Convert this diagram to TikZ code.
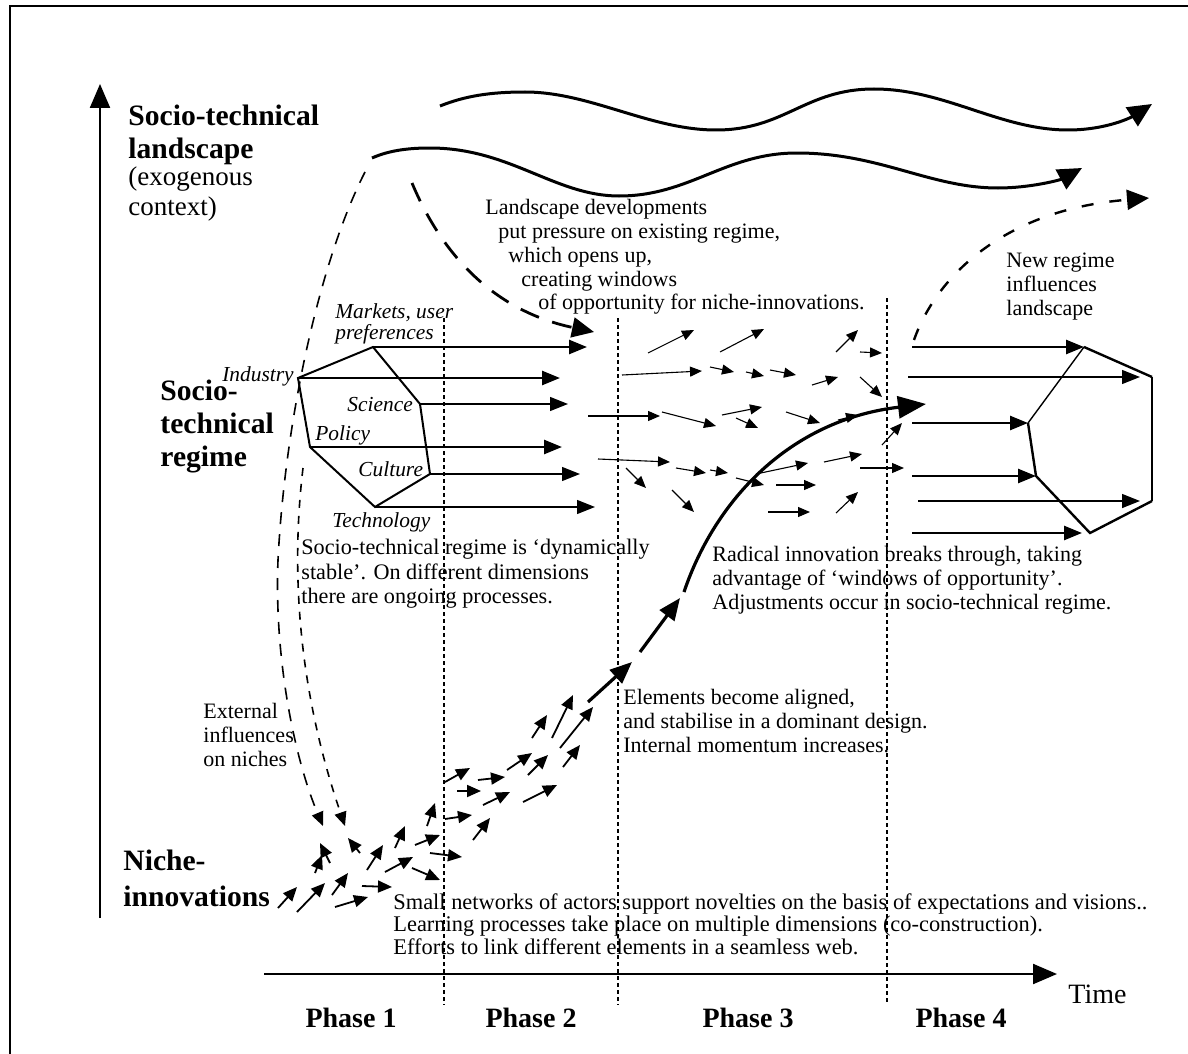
\documentclass[tikz,border=0pt]{standalone}
\usepackage{fontspec}
\setmainfont{Liberation Serif}
\usetikzlibrary{arrows.meta,positioning}
\begin{document}
\begin{tikzpicture}[
x=0.5pt, y=-0.5pt,
level/.style={font=\fontsize{14.8}{16.5}\selectfont\bfseries, align=left, inner sep=0pt, anchor=north west},
context/.style={font=\fontsize{13.5}{15}\selectfont, align=left, inner sep=0pt, anchor=north west},
note/.style={font=\fontsize{11}{11.9}\selectfont, align=left, inner sep=0pt, anchor=north west},
dimension/.style={font=\fontsize{10.7}{11}\selectfont\itshape, inner sep=0pt, anchor=base west},
phase/.style={font=\fontsize{14}{16}\selectfont\bfseries, inner sep=0pt},
axis/.style={line width=1.1pt, -{Triangle[length=12pt,width=10pt]}},
wave/.style={line width=1.5pt, -{Triangle[length=12pt,width=11pt]}},
strong/.style={line width=1.3pt, -{Triangle[length=9pt,width=7pt]}},
weak/.style={line width=0.7pt, -{Triangle[length=9pt,width=7pt]}},
frag/.style={line width=0.55pt, -{Triangle[length=6pt,width=5pt]}},
seed/.style={line width=0.9pt, -{Triangle[length=7pt,width=6pt]}},
growth/.style={line width=1.6pt, -{Triangle[length=11pt,width=9pt]}},
boundary/.style={line width=0.6pt, dash pattern=on 2pt off 1.5pt},
influence/.style={line width=0.8pt, dash pattern=on 6pt off 5pt, -{Triangle[length=7pt,width=6pt]}},
pressure/.style={line width=1.4pt, dash pattern=on 10pt off 7pt, -{Triangle[length=11pt,width=10pt]}}
]
\useasboundingbox (0,0) rectangle (1188,1054);
% frame
\draw[line width=1.3pt] (10,1054) -- (10,6) -- (1188,6);

% axes
\coordinate (ybase) at (100,918);
\coordinate (ytop) at (100,84);
\coordinate (tstart) at (264,974);
\coordinate (tend) at (1057,974);
\draw[axis] (ybase) -- (ytop);
\draw[axis] (tstart) -- (tend);
\node[font=\fontsize{14}{16}\selectfont, inner sep=0pt, anchor=north west] (time) [below right=5.5pt and 5.5pt of tend] {Time};

% phase boundaries
\draw[boundary] (444,318) -- (444,1005);
\draw[boundary] (618,318) -- (618,1005);
\draw[boundary] (887,298) -- (887,1005);
\node[phase] (phase1) at (351,1018) {Phase 1};
\node[phase] (phase2) at (531,1018) {Phase 2};
\node[phase] (phase3) at (748,1018) {Phase 3};
\node[phase] (phase4) at (961,1018) {Phase 4};

% level headings
\node[level] (landscape) at (128,105) {Socio-technical\\landscape};
\node[context] (exogenous) at (128,166) {(exogenous\\context)};
\node[level] (regime) at (160,380) {Socio-\\technical\\regime};
\node[level, font=\fontsize{14.8}{18}\selectfont\bfseries] (niche) at (123,850) {Niche-\\innovations};

% landscape developments
\draw[wave] (440,106) .. controls (465,96) and (490,92) .. (525,92)
  .. controls (590,92) and (650,130) .. (716,130)
  .. controls (785,130) and (805,89) .. (874,89)
  .. controls (945,89) and (1000,130) .. (1068,130)
  .. controls (1105,130) and (1130,118) .. (1152,104);
\draw[wave] (372,158) .. controls (390,150) and (410,148) .. (430,148)
  .. controls (510,148) and (555,196) .. (619,196)
  .. controls (690,196) and (725,153) .. (797,153)
  .. controls (880,153) and (930,188) .. (998,188)
  .. controls (1030,188) and (1060,180) .. (1082,168);

% existing regime
\coordinate (mkt) at (373,347);
\coordinate (sci) at (420,404);
\coordinate (cul) at (430,474);
\coordinate (tec) at (375,507);
\coordinate (pol) at (310,447);
\coordinate (ind) at (298,378);
\draw[line width=1pt] (mkt) -- (sci) -- (cul) -- (tec) -- (pol) -- (ind) -- cycle;
\draw[strong] (mkt) -- ++(214,0);
\draw[strong] (ind) -- ++(262,0);
\draw[weak] (sci) -- ++(148,0);
\draw[strong] (pol) -- ++(252,0);
\draw[weak] (cul) -- ++(150,0);
\draw[weak] (tec) -- ++(220,0);
\node[dimension, align=left, anchor=north west, font=\fontsize{10.7}{10.5}\selectfont\itshape] (markets) at (335,303) {Markets, user\\preferences};
\node[dimension, anchor=base east] (industry) at (294,381) {Industry};
\node[dimension] (science) at (347,411) {Science};
\node[dimension] (policy) at (315,440) {Policy};
\node[dimension] (culture) at (358,476) {Culture};
\node[dimension] (technology) at (332,527) {Technology};

% regime opening up
\foreach \ax/\ay/\bx/\by in {648/353/694/330, 720/352/764/329, 836/352/858/330, 860/352/882/353,
  622/375/702/371, 710/367/734/372, 746/372/764/376, 770/370/796/375, 812/385/838/377, 860/377/882/397,
  588/416/660/416, 662/412/716/426, 722/415/762/407, 736/418/758/428, 786/412/820/423, 838/420/858/415,
  598/459/670/462, 626/468/646/488, 676/468/706/473, 710/470/728/473, 736/478/764/485, 756/474/808/463,
  824/462/862/454, 860/468/904/468, 776/485/816/485, 672/490/694/512, 768/512/810/512, 836/513/858/492,
  882/445/902/423}
  \draw[frag] (\ax,\ay) -- (\bx,\by);

% new regime
\coordinate (nmkt) at (1084,347);
\coordinate (nsci) at (1152,377);
\coordinate (ncul) at (1152,501);
\coordinate (ntec) at (1090,533);
\coordinate (npol) at (1036,476);
\coordinate (nind) at (1028,423);
\draw[line width=1.2pt] (nmkt) -- (nsci);
\draw[line width=0.7pt] (nsci) -- (ncul);
\draw[line width=1.2pt] (ncul) -- (ntec) -- (npol) -- (nind);
\draw[line width=0.7pt] (nind) -- (nmkt);
\draw[strong] (912,347) -- (nmkt);
\draw[weak] (908,377) -- ([xshift=-6pt]nsci);
\draw[strong] (912,423) -- (nind);
\draw[strong] (912,476) -- (npol);
\draw[weak] (918,501) -- ([xshift=-6pt]ncul);
\draw[strong] (912,533) -- ([xshift=-4pt]ntec);

% niche-innovations
\foreach \ax/\ay/\bx/\by in {278/908/297/887, 297/912/325/883, 315/873/322/855, 332/895/348/873,
  335/907/368/897, 362/886/392/887, 330/863/320/843, 360/853/348/838, 367/870/383/845,
  385/872/413/857, 412/868/440/880, 395/848/405/826, 415/845/440/835, 427/826/435/803,
  430/853/462/857, 445/782/470/768, 457/791/481/791, 445/819/472/815, 473/840/490/818,
  478/780/505/777, 483/805/510/792, 507/770/532/753, 523/802/557/785, 528/775/548/755,
  532/738/547/715, 552/738/573/695, 560/748/593/707, 563/767/580/745}
  \draw[seed] (\ax,\ay) -- (\bx,\by);

% breakthrough
\draw[growth] (588,702) -- (632,662);
\draw[growth] (640,652) -- (680,598);
\draw[line width=1.6pt, -{Triangle[length=14pt,width=11pt]}] (684,592) .. controls (715,500) and (790,420) .. (926,404);

% dashed influences
\draw[influence] (365,172) .. controls (320,260) and (285,420) .. (278,560) .. controls (274,660) and (295,760) .. (323,826);
\draw[influence, dash pattern=on 4pt off 4pt] (303,468) .. controls (292,560) and (295,680) .. (345,826);
\draw[pressure] (412,183) .. controls (440,250) and (490,310) .. (594,332);
\draw[pressure, line width=1.2pt, dash pattern=on 6pt off 8pt] (914,340) .. controls (935,280) and (1000,210) .. (1149,198);

% explanations
\node[note] (pressuretext) at (485,199) {Landscape developments\\\hspace*{6.5pt}put pressure on existing regime,\\\hspace*{11.5pt}which opens up,\\\hspace*{18pt}creating windows\\\hspace*{26.5pt}of opportunity for niche-innovations.};
\node[note] (newregimetext) at (1006,253) {New regime\\influences\\landscape};
\node[note, font=\fontsize{11.1}{12.2}\selectfont] (stabletext) at (301,539) {Socio-technical regime is `dynamically\\stable'. On different dimensions\\there are ongoing processes.};
\node[note] (breakthroughtext) at (712,546) {Radical innovation breaks through, taking\\advantage of `windows of opportunity'.\\Adjustments occur in socio-technical regime.};
\node[note] (alignedtext) at (623,689) {Elements become aligned,\\and stabilise in a dominant design.\\Internal momentum increases.};
\node[note] (externaltext) at (203,703) {External\\influences\\on niches};
\node[note, font=\fontsize{11.2}{11.3}\selectfont] (networkstext) at (393,893) {Small networks of actors support novelties on the basis of expectations and visions..\\Learning processes take place on multiple dimensions (co-construction).\\Efforts to link different elements in a seamless web.};
\end{tikzpicture}
\end{document}
